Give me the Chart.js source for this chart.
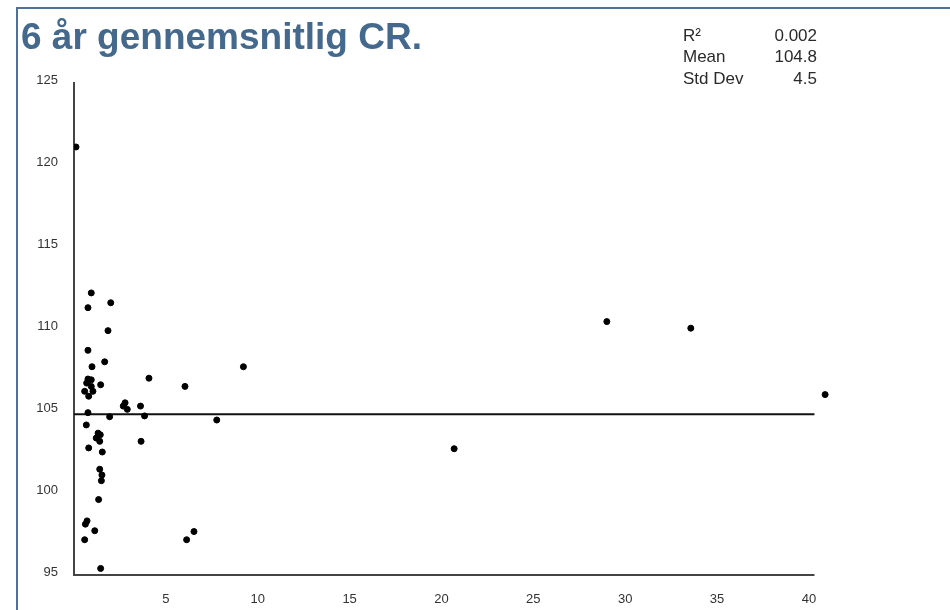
<!DOCTYPE html>
<html>
<head>
<meta charset="utf-8">
<script src="https://cdn.jsdelivr.net/npm/chart.js@4/dist/chart.umd.min.js"></script>
<style>
  html, body { margin: 0; padding: 0; background: #ffffff; }
  #wrap { width: 950px; height: 610px; }
</style>
</head>
<body>
<div id="wrap"><canvas id="cr" width="950" height="610"></canvas></div>
<script>
// Scatter of the six-year average CR per company
const xValues = [0.11, 0.94, 0.76, 2.0, 1.85, 0.76, 0.98, 1.67, 4.08, 9.22,
                 6.04, 0.76, 0.94, 0.69, 0.94, 0.58, 0.8, 1.45, 1.03, 2.78,
                 2.68, 2.9, 3.62, 3.84, 0.76, 1.94, 7.77, 0.67, 1.31, 1.43,
                 1.21, 1.4, 3.65, 0.8, 1.54, 20.69, 1.4, 1.52, 1.49, 1.34,
                 0.71, 0.62, 1.13, 0.58, 1.45, 6.13, 6.53, 29.0, 33.57, 40.88];
const yValues = [121.1, 112.2, 111.3, 111.6, 109.9, 108.7, 107.7, 108.0, 107.0, 107.7,
                 106.5, 106.95, 106.9, 106.7, 106.5, 106.2, 105.9, 106.6, 106.2, 105.5,
                 105.3, 105.1, 105.3, 104.7, 104.9, 104.65, 104.45, 104.15, 103.65, 103.55,
                 103.35, 103.15, 103.15, 102.75, 102.5, 102.7, 101.45, 101.1, 100.75, 99.6,
                 98.3, 98.1, 97.7, 97.15, 95.4, 97.15, 97.65, 110.45, 110.05, 106.0];

// Summary statistics shown in the corner
const statLabels = ['R²', 'Mean', 'Std Dev'];
const statValues = ['0.002', '104.8', '4.5'];
const meanValue = 104.8;

// Axis ranges and tick labels
const xMin = 0, xMax = 41.2;   // plotting range (last company sits past 40)
const xAxisEnd = 40.3;         // where the drawn x-axis and mean line stop
const yMin = 95, yMax = 125;
const xTickValues = [5, 10, 15, 20, 25, 30, 35, 40];

const titleText = '6 år gennemsnitlig CR.';

const points = xValues.map((x, i) => ({ x: x, y: yValues[i] }));
const meanLine = [{ x: xMin, y: meanValue }, { x: xAxisEnd, y: meanValue }];
const xAxisLine = [{ x: xMin, y: yMin }, { x: xAxisEnd, y: yMin }];

const frameColor = '#4d7296';
const tickFont = { family: '"Liberation Sans", Arial, sans-serif', size: 13 };

// Outer frame, heading and the statistics block
const decorations = {
  id: 'decorations',
  beforeDraw(chart) {
    const ctx = chart.ctx;
    ctx.save();
    ctx.fillStyle = '#ffffff';
    ctx.fillRect(0, 0, chart.width, chart.height);
    ctx.strokeStyle = frameColor;
    ctx.lineWidth = 2;
    ctx.beginPath();
    ctx.moveTo(17, chart.height);
    ctx.lineTo(17, 8);
    ctx.lineTo(chart.width, 8);
    ctx.stroke();
    ctx.restore();
  },
  afterDraw(chart) {
    const ctx = chart.ctx;
    ctx.save();
    ctx.fillStyle = '#44698d';
    ctx.font = 'bold 37px "Liberation Sans", Arial, sans-serif';
    ctx.textAlign = 'left';
    ctx.textBaseline = 'alphabetic';
    ctx.fillText(titleText, 21, 49);

    ctx.fillStyle = '#2a2a2a';
    ctx.font = '17px "Liberation Sans", Arial, sans-serif';
    ctx.textBaseline = 'middle';
    const rows = [36, 57, 79];
    statLabels.forEach((lab, i) => {
      ctx.textAlign = 'left';
      ctx.fillText(lab, 683, rows[i]);
      ctx.textAlign = 'right';
      ctx.fillText(statValues[i], 817, rows[i]);
    });
    ctx.restore();
  }
};

new Chart(document.getElementById('cr'), {
  type: 'scatter',
  data: {
    datasets: [
      {
        label: 'CR',
        data: points,
        backgroundColor: '#000000',
        borderColor: '#000000',
        pointRadius: 3,
        pointHoverRadius: 3,
        pointStyle: 'circle'
      },
      {
        type: 'line',
        label: 'Mean',
        data: meanLine,
        borderColor: '#111111',
        borderWidth: 2,
        pointRadius: 0,
        fill: false
      },
      {
        type: 'line',
        label: 'x-axis',
        data: xAxisLine,
        borderColor: '#444444',
        borderWidth: 2,
        pointRadius: 0,
        fill: false,
        clip: false
      }
    ]
  },
  options: {
    responsive: false,
    animation: false,
    events: [],
    layout: { padding: { left: 20, right: 119, top: 83, bottom: 5 } },
    plugins: {
      legend: { display: false },
      title: { display: false },
      tooltip: { enabled: false }
    },
    scales: {
      x: {
        type: 'linear',
        min: xMin,
        max: xMax,
        grid: { display: false, drawTicks: false },
        border: { display: false },
        afterBuildTicks(scale) {
          scale.ticks = xTickValues.map(v => ({ value: v }));
        },
        afterFit(scale) { scale.height = 30; },
        ticks: {
          color: '#333333',
          font: tickFont,
          padding: 17,
          maxRotation: 0,
          autoSkip: false
        }
      },
      y: {
        type: 'linear',
        min: yMin,
        max: yMax,
        grid: { display: false, drawTicks: false },
        border: { display: true, color: '#444444', width: 2 },
        afterFit(scale) { scale.width = 54; },
        ticks: {
          stepSize: 5,
          color: '#333333',
          font: tickFont,
          padding: 16,
          labelOffset: -3
        }
      }
    }
  },
  plugins: [decorations]
});
</script>
</body>
</html>
